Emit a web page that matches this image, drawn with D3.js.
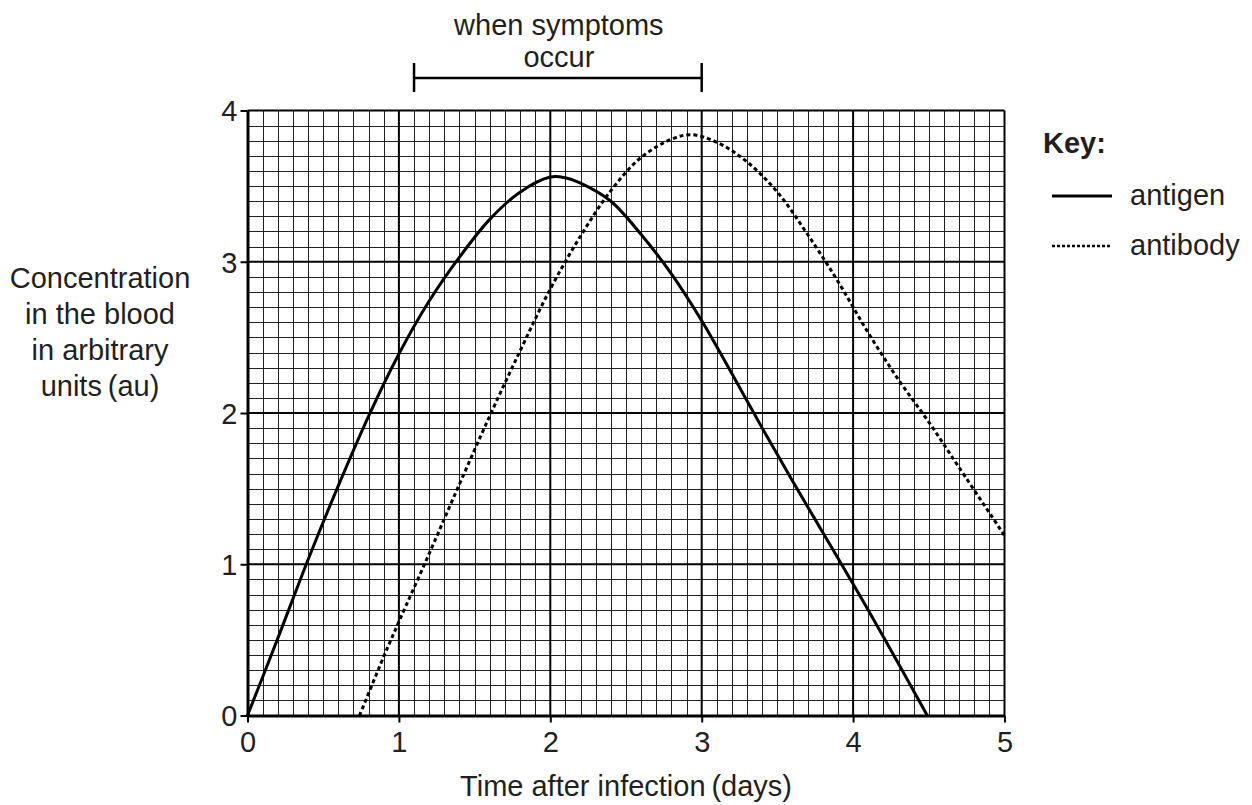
<!DOCTYPE html>
<html lang="en">
<head>
<meta charset="UTF-8">
<title>Antigen and antibody</title>
<script src="https://d3js.org/d3.v7.min.js"></script>
<style>
    body, html { margin: 0; padding: 0; background: #fff; }
    text { font-family: "Liberation Sans", Arial, sans-serif; fill: #231f20; }
</style>
</head>
<body>
<div id="chart"></div>
<script>
// values
const xTicks = [0, 1, 2, 3, 4, 5];
const yTicks = [0, 1, 2, 3, 4];

const antigenX = [0, 0.2, 0.4, 0.6, 0.8, 1.0, 1.2, 1.4, 1.6, 1.8, 2.0, 2.1, 2.2, 2.4, 2.6, 2.8, 3.0, 3.2, 3.4, 3.6, 3.8, 4.0, 4.2, 4.49];
const antigenY = [0, 0.51, 1.03, 1.52, 1.98, 2.39, 2.74, 3.03, 3.28, 3.46, 3.56, 3.555, 3.52, 3.40, 3.18, 2.92, 2.61, 2.26, 1.9, 1.55, 1.21, 0.87, 0.52, 0];

const antibodyX = [0.74, 0.9, 1.0, 1.2, 1.4, 1.6, 1.8, 2.0, 2.2, 2.4, 2.6, 2.8, 2.93, 3.1, 3.3, 3.5, 3.7, 3.9, 4.1, 4.3, 4.5, 4.7, 5.0];
const antibodyY = [0, 0.39, 0.62, 1.07, 1.53, 1.98, 2.41, 2.82, 3.17, 3.47, 3.69, 3.81, 3.84, 3.79, 3.66, 3.46, 3.18, 2.87, 2.53, 2.22, 1.94, 1.64, 1.19];

const symptomsRange = [1.1, 3.0];
const keyLabels = ["antigen", "antibody"];

const width = 1252, height = 805;
const fontSize = "29px";

const svg = d3.select("#chart").append("svg")
    .attr("width", width)
    .attr("height", height);

const x = d3.scaleLinear().domain([0, 5]).range([247.5, 1004.5]);
const y = d3.scaleLinear().domain([0, 4]).range([715.5, 110.5]);

// graph paper
const grid = svg.append("g");
const minorX = d3.range(0, 51).map(i => i / 10);
const minorY = d3.range(0, 41).map(i => i / 10);

grid.selectAll(".vminor")
    .data(minorX.filter(d => Math.round(d * 10) % 10 !== 0))
    .join("line")
    .attr("x1", d => Math.round(x(d)) + 0.5).attr("x2", d => Math.round(x(d)) + 0.5)
    .attr("y1", y(4)).attr("y2", y(0))
    .attr("stroke", "#222").attr("stroke-width", 1);

grid.selectAll(".hminor")
    .data(minorY.filter(d => Math.round(d * 10) % 10 !== 0))
    .join("line")
    .attr("y1", d => Math.round(y(d)) + 0.5).attr("y2", d => Math.round(y(d)) + 0.5)
    .attr("x1", x(0)).attr("x2", x(5))
    .attr("stroke", "#222").attr("stroke-width", 1);

grid.selectAll(".vmajor")
    .data(xTicks.slice(1))
    .join("line")
    .attr("x1", d => x(d)).attr("x2", d => x(d))
    .attr("y1", y(4)).attr("y2", y(0))
    .attr("stroke", "#000").attr("stroke-width", 2);

grid.selectAll(".hmajor")
    .data(yTicks.slice(1))
    .join("line")
    .attr("y1", d => y(d)).attr("y2", d => y(d))
    .attr("x1", x(0)).attr("x2", x(5))
    .attr("stroke", "#000").attr("stroke-width", 2);

// axes
const xAxis = svg.append("g")
    .attr("transform", `translate(0,${y(0)})`)
    .call(d3.axisBottom(x).tickValues(xTicks).tickFormat(d3.format("d")).tickSize(7).tickSizeOuter(0));
const yAxis = svg.append("g")
    .attr("transform", `translate(${x(0)},0)`)
    .call(d3.axisLeft(y).tickValues(yTicks).tickFormat(d3.format("d")).tickSize(7).tickSizeOuter(0));

[xAxis, yAxis].forEach(a => {
    a.select(".domain").attr("stroke", "#000").attr("stroke-width", 3);
    a.selectAll(".tick line").attr("stroke", "#000").attr("stroke-width", 2);
    a.selectAll(".tick text").style("font-size", fontSize).attr("fill", "#231f20")
        .style("font-family", "'Liberation Sans', Arial, sans-serif");
});
xAxis.selectAll(".tick text").attr("y", 36).attr("dy", 0);
yAxis.selectAll(".tick text").attr("x", -10).attr("dy", "0.36em");

// curves
const line = d3.line()
    .x(d => x(d[0]))
    .y(d => y(d[1]))
    .curve(d3.curveCatmullRom.alpha(0.5));

const antigen = antigenX.map((v, i) => [v, antigenY[i]]);
const antibody = antibodyX.map((v, i) => [v, antibodyY[i]]);

svg.append("path")
    .attr("d", line(antigen))
    .attr("fill", "none")
    .attr("stroke", "#000")
    .attr("stroke-width", 3);

svg.append("path")
    .attr("d", line(antibody))
    .attr("fill", "none")
    .attr("stroke", "#000")
    .attr("stroke-width", 3)
    .attr("stroke-dasharray", "4,3");

// symptoms bar
const bar = svg.append("g");
bar.append("line")
    .attr("x1", x(symptomsRange[0])).attr("x2", x(symptomsRange[1]))
    .attr("y1", 78).attr("y2", 78)
    .attr("stroke", "#000").attr("stroke-width", 2.5);
bar.selectAll(".cap")
    .data(symptomsRange)
    .join("line")
    .attr("x1", d => x(d)).attr("x2", d => x(d))
    .attr("y1", 63).attr("y2", 92)
    .attr("stroke", "#000").attr("stroke-width", 2.5);
bar.selectAll("text")
    .data(["when symptoms", "occur"])
    .join("text")
    .attr("x", x(d3.mean(symptomsRange)) + 1)
    .attr("y", (d, i) => 35 + i * 32)
    .attr("text-anchor", "middle")
    .style("font-size", fontSize)
    .text(d => d);

// y title
svg.append("g").selectAll("text")
    .data(["Concentration", "in the blood", "in arbitrary", "units\u2009(au)"])
    .join("text")
    .attr("x", 100)
    .attr("y", (d, i) => 288 + i * 36)
    .attr("text-anchor", "middle")
    .style("font-size", fontSize)
    .text(d => d);

// x title
svg.append("text")
    .attr("x", 626)
    .attr("y", 796)
    .attr("text-anchor", "middle")
    .style("font-size", fontSize)
    .text("Time after infection\u2009(days)");

// key
const key = svg.append("g");
key.append("text")
    .attr("x", 1043).attr("y", 153)
    .style("font-size", fontSize)
    .style("font-weight", "bold")
    .text("Key:");
key.selectAll(".kline")
    .data(keyLabels)
    .join("line")
    .attr("x1", 1052).attr("x2", 1112)
    .attr("y1", (d, i) => 196 + i * 50).attr("y2", (d, i) => 196 + i * 50)
    .attr("stroke", "#000")
    .attr("stroke-width", (d, i) => i === 0 ? 3 : 2.5)
    .attr("stroke-dasharray", (d, i) => i === 0 ? null : "3,2");
key.selectAll(".ktext")
    .data(keyLabels)
    .join("text")
    .attr("x", 1130)
    .attr("y", (d, i) => 205 + i * 50)
    .style("font-size", fontSize)
    .text(d => d);
</script>
</body>
</html>
